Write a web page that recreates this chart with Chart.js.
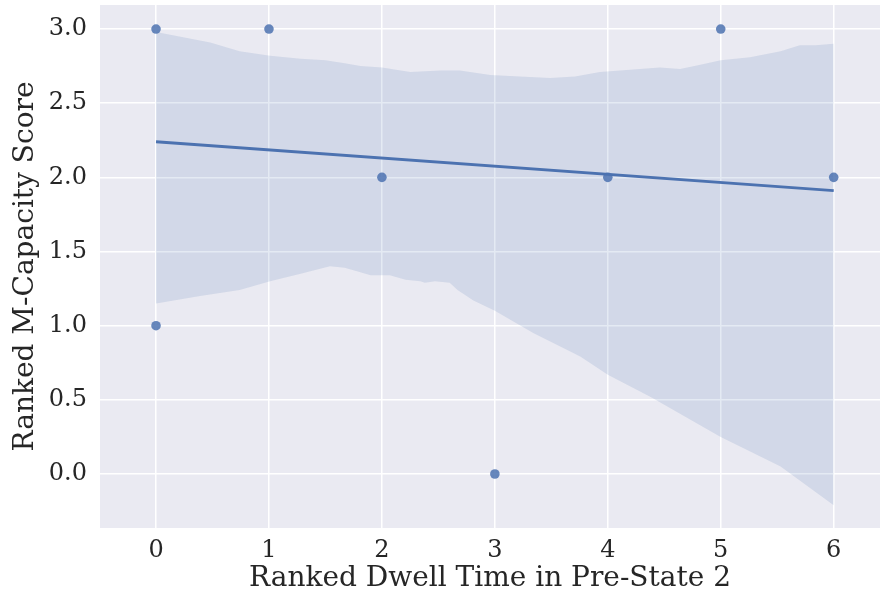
<!DOCTYPE html>
<html>
<head>
<meta charset="utf-8">
<script src="https://cdn.jsdelivr.net/npm/chart.js@4.4.1/dist/chart.umd.min.js"></script>
<style>
  html, body { margin: 0; padding: 0; background: #ffffff; }
  #wrap { width: 880px; height: 596px; }
</style>
</head>
<body>
<div id="wrap"><canvas id="c" width="880" height="596"></canvas></div>
<script>
// Observations: ranked dwell time vs ranked M-capacity score
const dwellRank = [0, 0, 1, 2, 3, 4, 5, 6];
const capacityRank = [3, 1, 3, 2, 0, 2, 3, 2];

// Fitted regression line (end points)
const fitX = [0, 6];
const fitY = [2.24, 1.91];

// Bootstrapped 95% confidence band
const bandUpperX = [0, 0.48, 0.74, 1.01, 1.28, 1.50, 1.67, 1.81, 2.00, 2.25, 2.52, 2.69, 2.96, 3.22, 3.49, 3.71, 3.93, 4.11, 4.46, 4.64, 4.82, 5.00, 5.26, 5.53, 5.70, 5.84, 6.00];
const bandUpperY = [2.98, 2.91, 2.85, 2.82, 2.80, 2.79, 2.77, 2.75, 2.74, 2.71, 2.72, 2.72, 2.69, 2.68, 2.67, 2.68, 2.71, 2.72, 2.74, 2.73, 2.76, 2.79, 2.81, 2.85, 2.89, 2.89, 2.90];
const bandLowerX = [0, 0.39, 0.74, 1.01, 1.28, 1.54, 1.67, 1.81, 1.90, 2.07, 2.21, 2.34, 2.38, 2.47, 2.60, 2.67, 2.81, 3.00, 3.34, 3.76, 4.00, 4.38, 5.00, 5.53, 6.00];
const bandLowerY = [1.15, 1.20, 1.24, 1.30, 1.35, 1.40, 1.39, 1.36, 1.34, 1.34, 1.31, 1.30, 1.29, 1.30, 1.29, 1.24, 1.17, 1.10, 0.95, 0.79, 0.67, 0.52, 0.25, 0.05, -0.21];

// Tick labels
const xTicks = [0, 1, 2, 3, 4, 5, 6];
const yTicks = [0.0, 0.5, 1.0, 1.5, 2.0, 2.5, 3.0];

const xTitle = 'Ranked Dwell Time in Pre-State 2';
const yTitle = 'Ranked M-Capacity Score';

const BLUE = '#4C72B0';
const TEXT = '#262626';
const SERIF = "'DejaVu Serif', 'Liberation Serif', serif";

const zip = (xs, ys) => xs.map((x, i) => ({ x: x, y: ys[i] }));

// Shaded plotting area
const plotBackground = {
  id: 'plotBackground',
  beforeDraw(chart) {
    const { ctx, chartArea: a } = chart;
    ctx.save();
    ctx.fillStyle = '#EAEAF2';
    ctx.fillRect(a.left, a.top, a.right - a.left, a.bottom - a.top);
    ctx.restore();
  }
};

new Chart(document.getElementById('c'), {
  type: 'scatter',
  data: {
    datasets: [
      {
        label: 'observations',
        data: zip(dwellRank, capacityRank),
        pointRadius: 4.8,
        pointBackgroundColor: 'rgba(76,114,176,0.85)',
        pointBorderWidth: 0,
        showLine: false,
        order: 0
      },
      {
        label: 'fit',
        data: zip(fitX, fitY),
        showLine: true,
        borderColor: BLUE,
        borderWidth: 2.8,
        pointRadius: 0,
        fill: false,
        order: 1
      },
      {
        label: 'ci upper',
        data: zip(bandUpperX, bandUpperY),
        showLine: true,
        borderWidth: 0,
        borderColor: 'rgba(0,0,0,0)',
        pointRadius: 0,
        backgroundColor: 'rgba(76,114,176,0.15)',
        fill: '+1',
        order: 2
      },
      {
        label: 'ci lower',
        data: zip(bandLowerX, bandLowerY),
        showLine: true,
        borderWidth: 0,
        borderColor: 'rgba(0,0,0,0)',
        pointRadius: 0,
        fill: false,
        order: 3
      }
    ]
  },
  options: {
    responsive: false,
    animation: false,
    layout: { autoPadding: false, padding: { top: 5, right: 0, bottom: 0, left: 0 } },
    plugins: {
      legend: { display: false },
      tooltip: { enabled: false },
      filler: { propagate: false }
    },
    scales: {
      x: {
        type: 'linear',
        min: -0.496,
        max: 6.41,
        afterFit(scale) {
          scale.height = 68;
          scale.paddingLeft = 0;
          scale.paddingRight = 0;
        },
        afterBuildTicks(scale) { scale.ticks = xTicks.map(v => ({ value: v })); },
        grid: { color: '#ffffff', lineWidth: 1.5, drawTicks: false },
        border: { display: false },
        ticks: {
          font: { family: SERIF, size: 24 },
          color: TEXT,
          padding: 8,
          callback: v => String(v)
        },
        title: {
          display: true,
          text: xTitle,
          font: { family: SERIF, size: 28 },
          color: TEXT,
          padding: { top: 0, bottom: 0 }
        }
      },
      y: {
        type: 'linear',
        min: -0.364,
        max: 3.162,
        afterFit(scale) {
          scale.width = 100;
          scale.paddingTop = 0;
          scale.paddingBottom = 0;
        },
        afterBuildTicks(scale) { scale.ticks = yTicks.map(v => ({ value: v })); },
        grid: { color: '#ffffff', lineWidth: 1.5, drawTicks: false },
        border: { display: false },
        ticks: {
          font: { family: SERIF, size: 24 },
          color: TEXT,
          padding: 13,
          callback: v => Number(v).toFixed(1)
        },
        title: {
          display: true,
          text: yTitle,
          font: { family: SERIF, size: 28 },
          color: TEXT,
          padding: { top: 9, bottom: 0 }
        }
      }
    }
  },
  plugins: [plotBackground]
});
</script>
</body>
</html>
